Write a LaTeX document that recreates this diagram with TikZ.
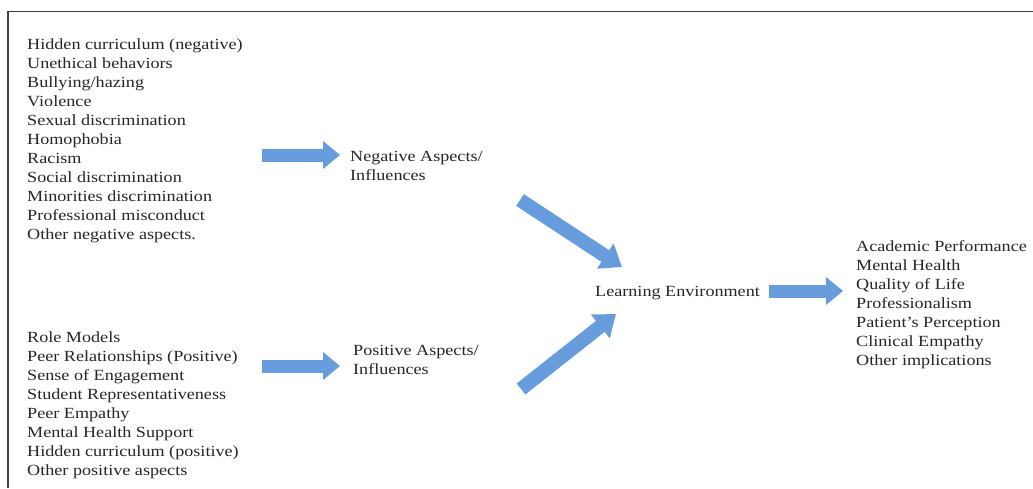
\documentclass[tikz,border=0pt]{standalone}
\usepackage{fontspec}
\setmainfont{Liberation Serif}[FakeStretch=1.17]
\usetikzlibrary{arrows.meta}
\definecolor{arrowblue}{RGB}{104,157,221}
\tikzset{
  txt/.style={inner sep=0pt, anchor=north west, text=black!85, font=\fontsize{15.5}{19}\selectfont},
  blockarrow/.style={line width=13pt, draw=arrowblue, -{Triangle[length=17pt,width=27pt]}},
  diagarrow/.style={line width=14pt, draw=arrowblue, -{Triangle[length=20pt,width=29pt]}},
  frame/.style={draw=black!75, line width=1.2pt}
}
\begin{document}
\begin{tikzpicture}[x=1pt,y=-1pt]
\useasboundingbox (0,0) rectangle (1033,488);
% frame (only top and left edges visible)
\coordinate (fbl) at (8,488);
\coordinate (ftl) at (8,11.5);
\coordinate (ftr) at (1033,11.5);
\draw[frame] (fbl) -- (ftl) -- (ftr);

\node[txt] (neg) at (27,35.7) {\begin{tabular}{@{}l@{}}
Hidden curriculum (negative)\\
Unethical behaviors\\
Bullying/hazing\\
Violence\\
Sexual discrimination\\
Homophobia\\
Racism\\
Social discrimination\\
Minorities discrimination\\
Professional misconduct\\
Other negative aspects.
\end{tabular}};

\node[txt] (pos) at (27,328.7) {\begin{tabular}{@{}l@{}}
Role Models\\
Peer Relationships (Positive)\\
Sense of Engagement\\
Student Representativeness\\
Peer Empathy\\
Mental Health Support\\
Hidden curriculum (positive)\\
Other positive aspects
\end{tabular}};

\node[txt] (negA) at (350,147.7) {\begin{tabular}{@{}l@{}}
Negative Aspects/\\
Influences
\end{tabular}};

\node[txt] (posA) at (353,341.7) {\begin{tabular}{@{}l@{}}
Positive Aspects/\\
Influences
\end{tabular}};

\node[txt] (le) at (595,282.7) {\begin{tabular}{@{}l@{}}
Learning Environment
\end{tabular}};

\node[txt] (out) at (856,237.7) {\begin{tabular}{@{}l@{}}
Academic Performance\\
Mental Health\\
Quality of Life\\
Professionalism\\
Patient's Perception\\
Clinical Empathy\\
Other implications
\end{tabular}};

% arrow end points
\coordinate (a1s) at (262,155);
\coordinate (a1e) at (340,155);
\coordinate (a2s) at (262,366);
\coordinate (a2e) at (340,366);
\coordinate (a3s) at (520,200);
\coordinate (a3e) at (622,267);
\coordinate (a4s) at (521,389);
\coordinate (a4e) at (616,314);
\coordinate (a5s) at (769,291);
\coordinate (a5e) at (843,291);

\draw[blockarrow] (a1s) -- (a1e);
\draw[blockarrow] (a2s) -- (a2e);
\draw[diagarrow] (a3s) -- (a3e);
\draw[diagarrow] (a4s) -- (a4e);
\draw[blockarrow] (a5s) -- (a5e);
\end{tikzpicture}
\end{document}
